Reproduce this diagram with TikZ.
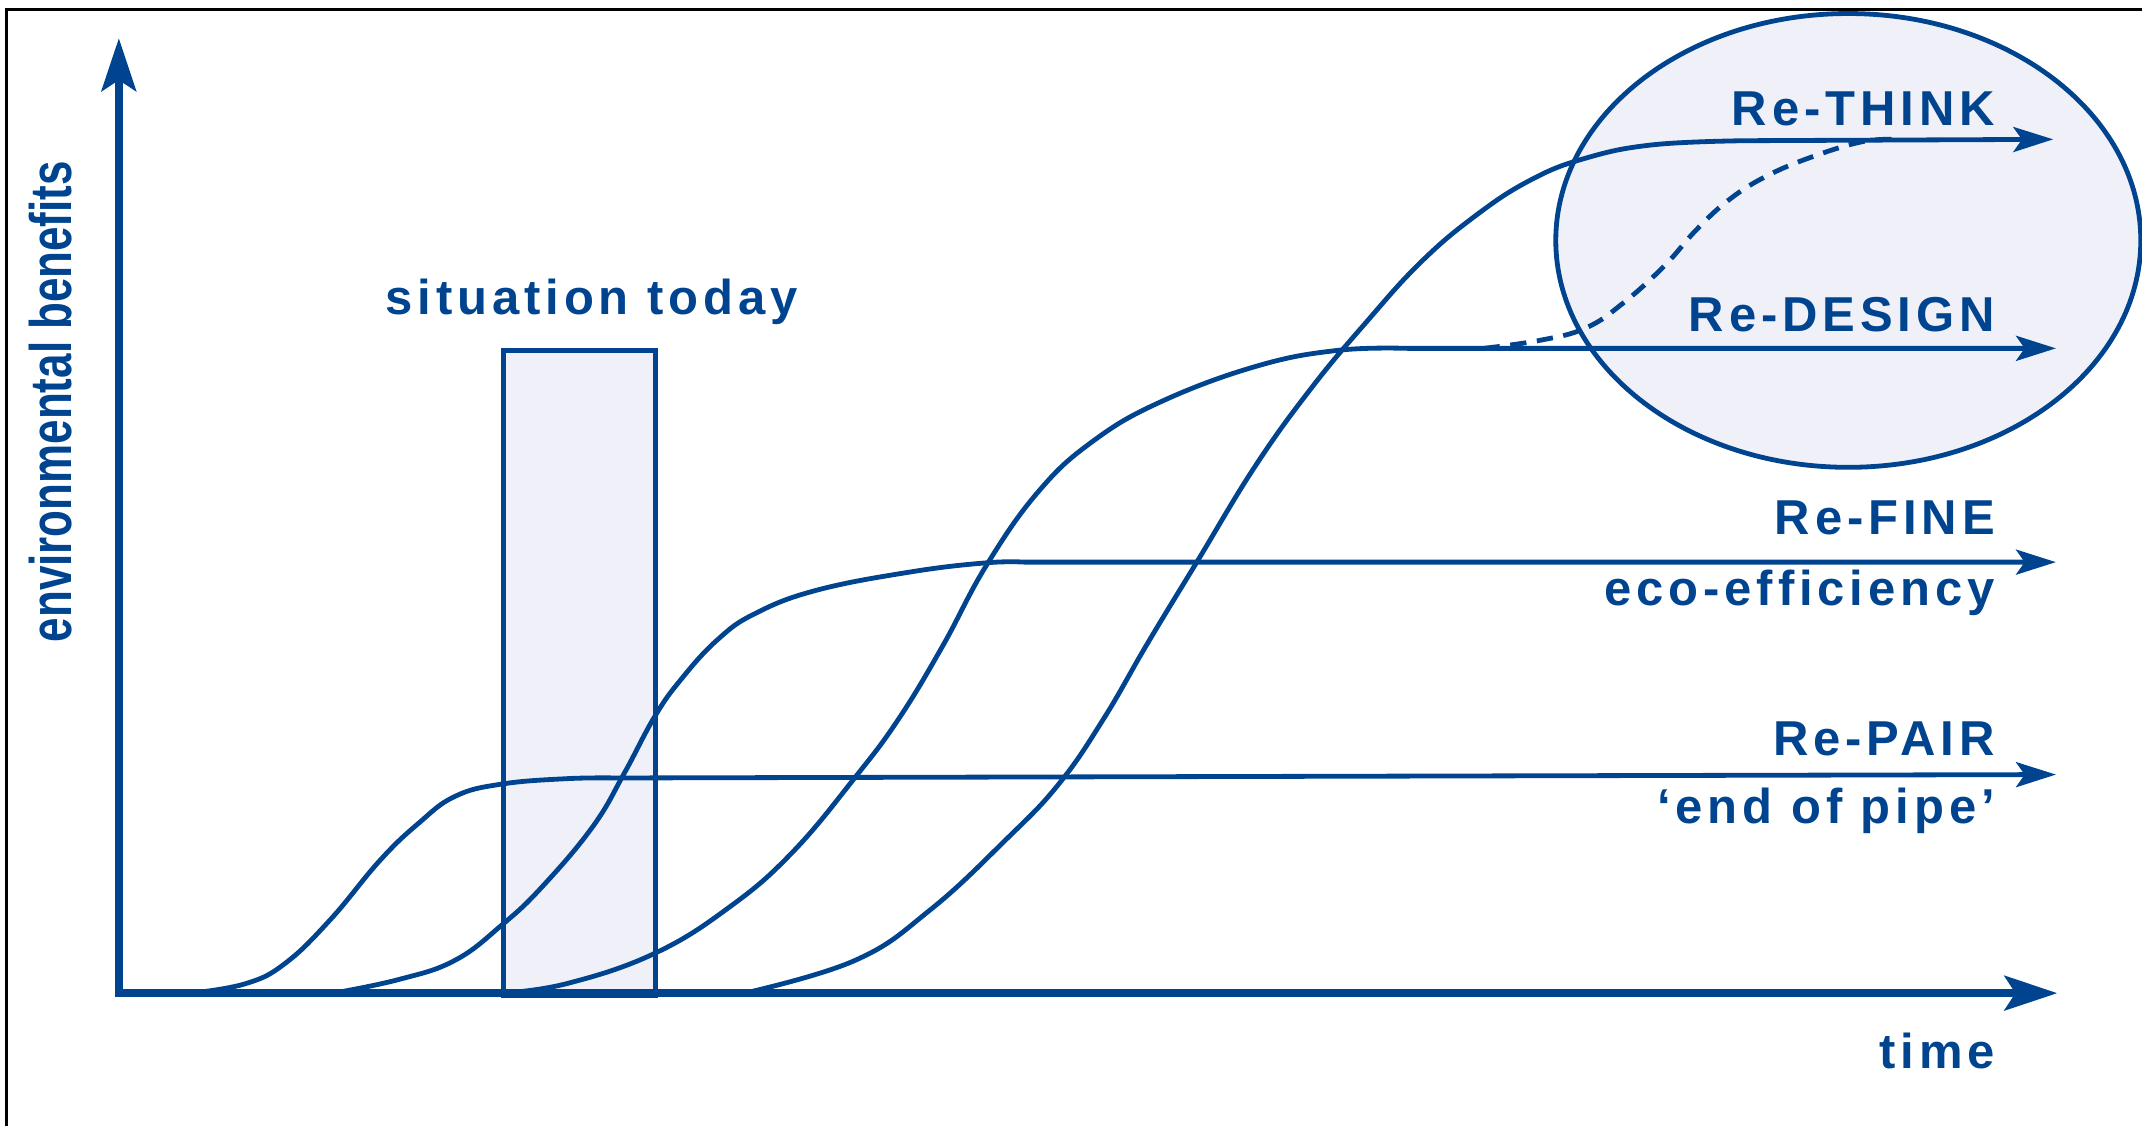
\documentclass[tikz,border=0pt]{standalone}
\usepackage{fontspec}
\setmainfont{Liberation Sans}
\newfontfamily\labfont{Liberation Sans}[LetterSpace=10]
\usetikzlibrary{arrows.meta}
\definecolor{eblue}{HTML}{00448F}
\definecolor{efill}{HTML}{F0F1F8}
\begin{document}
\begin{tikzpicture}[x=0.01cm,y=-0.01cm,
  curve/.style={draw=eblue,line width=1pt,line join=round},
  tipsmall/.style={-{Stealth[length=8.3pt,width=5.2pt,inset=1.8pt]}},
  axisline/.style={draw=eblue,line width=1.55pt,line join=miter,
     {Stealth[length=11pt,width=7.2pt,inset=2.3pt]}-{Stealth[length=11pt,width=7.2pt,inset=2.3pt]}},
  lab/.style={text=eblue,font={\labfont\bfseries\fontsize{10.2pt}{12pt}\selectfont},inner sep=0pt,anchor=base east},
  hilite/.style={draw=eblue,fill=efill,line width=1pt}]
\useasboundingbox (0,0) rectangle (1568,824);
% frame
\draw[black,line width=0.6pt] (5,824) -- (5,7) -- (1568,7);
% highlighted areas
\draw[hilite] (1353,176) ellipse [x radius=2.14cm, y radius=1.66cm];
\node[hilite,minimum width=1.11cm,minimum height=4.72cm,inner sep=0pt,anchor=north west] (today) at (367,255) {};
% curves
\draw[curve,tipsmall] plot[smooth,tension=0.7] coordinates {(140,727) (180,720) (209,705) (242,673) (278,630) (306,603) (333,583) (367,574) (415,570) (452,569.5)} -- (1505,567);
\draw[curve,tipsmall] plot[smooth,tension=0.7] coordinates {(244,727) (292,717) (333,703) (367.5,677) (397,649) (434,605) (457,566) (479,525) (498,498) (525,468.5) (553,449) (598,432) (667,418.6) (722,412) (750,411.5)} -- (1505,411.5);
\draw[curve,tipsmall] plot[smooth,tension=0.7] coordinates {(368,727) (415,720) (479,698) (534,664) (580,624) (626,569) (658,526) (690,473) (722,414) (760,360) (800,323) (850,294) (920,268) (979,256.5) (1030,255)} -- (1505,255);
\draw[curve,tipsmall] plot[smooth,tension=0.7] coordinates {(545,727) (626,703) (681,666) (736,615) (775,574) (808,526) (840,471) (877,410) (919,341) (960,284) (1000,236) (1040,192) (1080,158) (1120,132) (1160,116) (1210,106) (1278,103)} -- (1503,102);
\draw[curve,dash pattern=on 3.4pt off 2.2pt] plot[smooth,tension=0.7] coordinates {(1086,255) (1128,249) (1161,240) (1188,222) (1218,195) (1242,168) (1266,146) (1293,129) (1326,115) (1362,104) (1385,102)};
% axes
\coordinate (ytip) at (87,28);
\coordinate (origin) at (87,727);
\coordinate (xtip) at (1506,727);
\draw[axisline] (ytip) -- (origin) -- (xtip);
% labels
\node[text=eblue,font={\bfseries\fontsize{12.2pt}{14pt}\selectfont},inner sep=0pt,rotate=90,anchor=base] (ylab) at (52.5,294) {\scalebox{0.75}[1]{environmental benefits}};
\node[text=eblue,font={\labfont\bfseries\fontsize{10.2pt}{12pt}\selectfont},inner sep=0pt,anchor=base] (sit) at (433,230) {situation today};
\node[lab] (think) at (1461,92) {Re-THINK};
\node[lab] (design) at (1461,243) {Re-DESIGN};
\node[lab] (fine) at (1461,391) {Re-FINE};
\node[lab] (eco) at (1461,443) {eco-ef{}f{}iciency};
\node[lab] (pair) at (1461,553) {Re-PAIR};
\node[lab] (pipe) at (1461,603) {‘end of pipe’};
\node[lab] (time) at (1461,782) {time};
\end{tikzpicture}
\end{document}
